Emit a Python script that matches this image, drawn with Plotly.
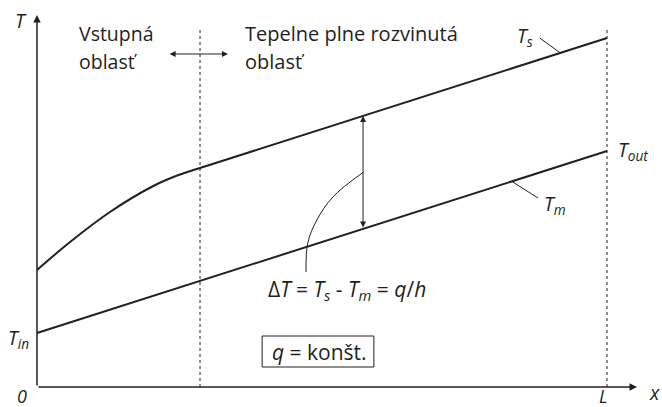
import numpy as np
import plotly.graph_objects as go

# Position along the tube (0 .. L) and temperatures in arbitrary units
L = 1.0
x_fd = 0.286                      # start of the thermally fully developed region

x_entry = [0.0, 0.058, 0.128, 0.204, 0.246, 0.286]
Ts_entry = [1.17, 1.45, 1.75, 2.01, 2.115, 2.19]
x_dev = [0.286, 1.0]
Ts_dev = [2.19, 3.49]
x_mean = [0.0, 1.0]
Tm_vals = [0.54, 2.36]

x_s = x_entry + x_dev[1:]
T_s = Ts_entry + Ts_dev[1:]

# x position of the ΔT double arrow and its leader curve
x_dT = 0.572
leader_x = [0.519, 0.491, 0.475, 0.472]
leader_y = [1.90, 1.67, 1.44, 1.15]

INK = "#231f20"
FONT = "Open Sans"

fig = go.Figure()
fig.add_trace(go.Scatter(x=x_entry, y=Ts_entry, mode="lines", line=dict(color=INK, width=2),
                         line_shape="spline", hoverinfo="skip"))
fig.add_trace(go.Scatter(x=x_dev, y=Ts_dev, mode="lines", line=dict(color=INK, width=2),
                         hoverinfo="skip"))
fig.add_trace(go.Scatter(x=x_mean, y=Tm_vals, mode="lines", line=dict(color=INK, width=2),
                         hoverinfo="skip"))

Ts_at = float(np.interp(x_dT, x_s, T_s))
Tm_at = float(np.interp(x_dT, x_mean, Tm_vals))
mid = (Ts_at + Tm_at) / 2
fig.add_trace(go.Scatter(x=[x_dT] + leader_x, y=[mid] + leader_y, mode="lines",
                         line=dict(color=INK, width=1), line_shape="spline",
                         hoverinfo="skip"))

# leader ticks for the curve labels
ts_pt = 0.918
tm_pt = 0.833
fig.add_trace(go.Scatter(x=[0.882, ts_pt], y=[3.49, float(np.interp(ts_pt, x_s, T_s))],
                         mode="lines", line=dict(color=INK, width=1), hoverinfo="skip"))
fig.add_trace(go.Scatter(x=[tm_pt, 0.879], y=[float(np.interp(tm_pt, x_mean, Tm_vals)), 1.89],
                         mode="lines", line=dict(color=INK, width=1), hoverinfo="skip"))

# dotted region boundaries
for xv, top in [(x_fd, 3.57), (L, 3.58)]:
    fig.add_shape(type="line", x0=xv, x1=xv, y0=0, y1=top, xref="x", yref="y",
                  line=dict(color=INK, width=1, dash="dot"))

def arrow(x0, y0, x1, y1, width=1.5, both=False, size=1.0):
    fig.add_annotation(x=x1, y=y1, ax=x0, ay=y0, xref="x", yref="y", axref="x", ayref="y",
                       text="", showarrow=True, arrowhead=2, arrowsize=size,
                       arrowwidth=width, arrowcolor=INK,
                       arrowside="end+start" if both else "end")

# coordinate axes
arrow(0, 0, 1.0526, 0, width=1.5)
arrow(0, 0, 0, 3.72, width=1.5)
# region marker and ΔT arrow
arrow(0.23, 3.33, 0.335, 3.33, width=1, both=True, size=1.2)
arrow(x_dT, Tm_at, x_dT, Ts_at, width=1, both=True, size=1.2)

def label(x, y, text, size=19.5, xanchor="center", yanchor="middle", align="center"):
    fig.add_annotation(x=x, y=y, xref="x", yref="y", text=text, showarrow=False,
                       xanchor=xanchor, yanchor=yanchor, align=align,
                       font=dict(family=FONT, size=size, color=INK))

label(-0.028, 3.67, "<i>T</i>")
label(0.070, 3.54, "Vstupná", xanchor="left")
label(0.070, 3.26, "oblasť", xanchor="left")
label(0.362, 3.54, "Tepelne plne rozvinutá", xanchor="left", size=20)
label(0.362, 3.26, "oblasť", xanchor="left", size=20)
label(0.856, 3.51, "<i>T<sub>s</sub></i>")
label(1.046, 2.37, "<i>T<sub>out</sub></i>")
label(0.909, 1.83, "<i>T<sub>m</sub></i>")
label(-0.033, 0.49, "<i>T<sub>in</sub></i>")
label(-0.026, -0.09, "<i>0</i>", size=18)
label(0.993, -0.09, "<i>L</i>", size=18)
label(1.084, -0.05, "<i>x</i>")
label(0.544, 0.97, "Δ<i>T</i> = <i>T<sub>s</sub></i> - <i>T<sub>m</sub></i> = <i>q</i>/<i>h</i>", size=21)

fig.add_shape(type="rect", x0=0.395, x1=0.591, y0=0.20, y1=0.51, xref="x", yref="y",
              line=dict(color=INK, width=1))
label(0.495, 0.355, "<i>q</i> = konšt.", size=21)

fig.update_xaxes(visible=False, range=[-37 / 570, -37 / 570 + 662 / 570])
fig.update_yaxes(visible=False, range=[-0.20, 3.87])
fig.update_layout(width=662, height=407, margin=dict(l=0, r=0, t=0, b=0),
                  plot_bgcolor="white", paper_bgcolor="white", showlegend=False)

fig.write_html("out.html")
